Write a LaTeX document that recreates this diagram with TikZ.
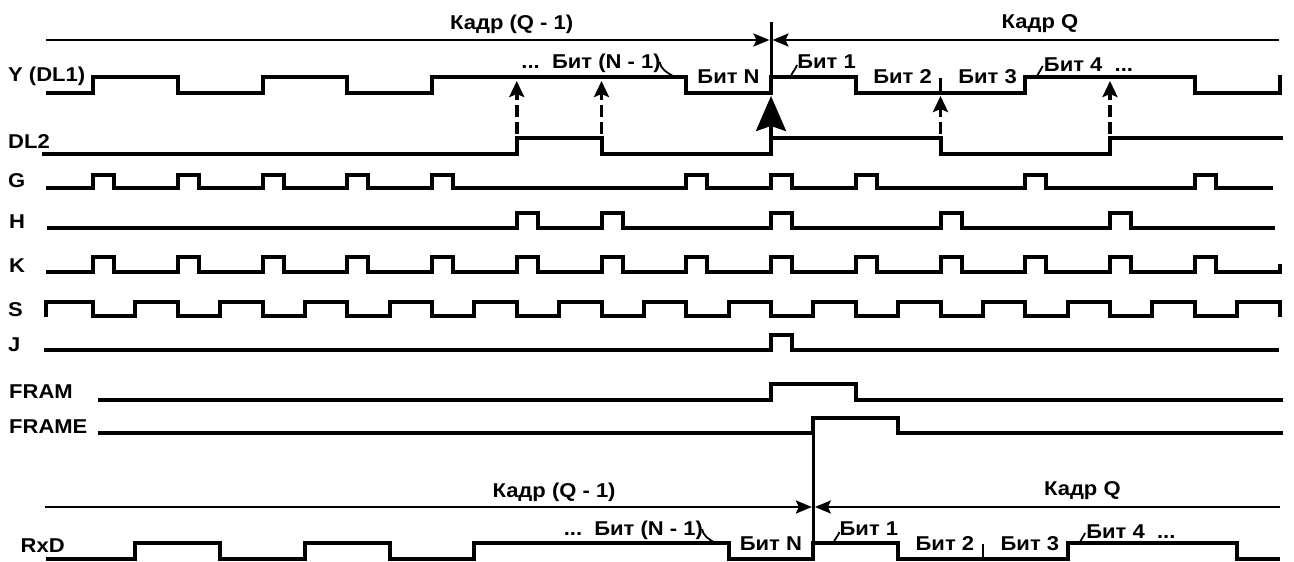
\documentclass[tikz,border=0pt]{standalone}
\usepackage{fontspec}
\setmainfont{Liberation Sans}[FakeStretch=1.1]
\usetikzlibrary{arrows.meta,calc}
\tikzset{
  sig/.style={line width=4pt},
  thintick/.style={line width=2.5pt},
  lbl/.style={font=\fontsize{20}{23}\selectfont\bfseries, inner sep=0pt, anchor=base},
  siglbl/.style={font=\fontsize{20}{23}\selectfont\bfseries, inner sep=0pt, anchor=base west},
  frameline/.style={line width=2.6pt, -{Stealth[length=16pt,width=13pt,inset=3pt]}},
  markline/.style={line width=3pt},
  leader/.style={line width=1.8pt},
  darrow/.style={line width=3.5pt, dash pattern=on 12pt off 5pt, -{Stealth[length=16pt,width=15pt,inset=3pt]}},
  bigarrow/.style={line width=3.5pt, dash pattern=on 12pt off 5pt, -{Stealth[length=35pt,width=30pt,inset=5pt]}}
}
\newcommand\bitannot[1]{%
  \node[lbl] (#1kq1) at (511.7,30) {Кадр (Q - 1)};
  \node[lbl] (#1kq) at (1040,28.5) {Кадр Q};
  \node[lbl] (#1bn1) at (591,68) {...\ \ Бит (N - 1)};
  \node[lbl] (#1bn) at (728.5,83) {Бит N};
  \node[lbl] (#1b1) at (826.5,68) {Бит 1};
  \node[lbl] (#1b2) at (902.5,83) {Бит 2};
  \node[lbl] (#1b3) at (987.5,83) {Бит 3};
  \node[lbl] (#1b4) at (1088.5,71) {Бит 4\ \ ...};
  \coordinate (#1l1) at (673,76);
  \coordinate (#1l2) at (791,76);
  \coordinate (#1l3) at (1037,76);
  \draw[leader] ($(#1bn1.base east)+(-1,-6)$) to[out=-80,in=150] (#1l1);
  \draw[leader] (#1l2) to[out=70,in=-110] ($(#1b1.base west)+(0,-3)$);
  \draw[leader] (#1l3) to[out=60,in=-120] ($(#1b4.base west)+(-1,-5)$);
}
\begin{document}
\begin{tikzpicture}[x=1pt,y=-1pt]
\useasboundingbox (0,0) rectangle (1294,562);
% signal names
\node[siglbl] (nY) at (8,81.7) {Y (DL1)};
\node[siglbl] (nDL2) at (8,148) {DL2};
\node[siglbl] (nG) at (8,187) {G};
\node[siglbl] (nH) at (9,228) {H};
\node[siglbl] (nK) at (9,272) {K};
\node[siglbl] (nS) at (8,316) {S};
\node[siglbl] (nJ) at (8,351) {J};
\node[siglbl] (nFRAM) at (9,398) {FRAM};
\node[siglbl] (nFRAME) at (9,433) {FRAME};
\node[siglbl] (nRxD) at (20.5,552) {RxD};
% top frame annotation
\draw[markline] (771,22) -- (771,77);
\draw[frameline] (46,40) -- (769.5,40);
\draw[frameline] (1279,40) -- (772.5,40);
\bitannot{t}
% Y (DL1)
\draw[sig] (46,93) -- (93,93) -- (93,77) -- (177.75,77) -- (177.75,93) -- (262.5,93) -- (262.5,77)
  -- (347.25,77) -- (347.25,93) -- (432,93) -- (432,77) -- (686.25,77) -- (686.25,93) -- (771,93)
  -- (771,77) -- (855.75,77) -- (855.75,93) -- (1025.25,93) -- (1025.25,77) -- (1194.75,77)
  -- (1194.75,93) -- (1279.5,93) -- (1279.5,75);
\draw[thintick] (940.5,93) -- (940.5,78);
% DL2
\draw[sig] (42,154) -- (516.75,154) -- (516.75,138) -- (601.5,138) -- (601.5,154) -- (771,154)
  -- (771,138) -- (940.5,138) -- (940.5,154) -- (1110,154) -- (1110,138) -- (1283,138);
% arrows DL2 -> Y
\draw[darrow] (516.75,134) -- (516.75,81);
\draw[darrow] (601.5,134) -- (601.5,81);
\draw[darrow] (940.5,134) -- (940.5,96);
\draw[darrow] (1110,134) -- (1110,81);
\draw[bigarrow] (771,136) -- (771,96);
% G
\draw[sig] (46,188) \foreach \k in {0,1,2,3,4,7,8,9,11,13}{ -- ({93+84.75*\k},188) -- ++(0,-13) -- ++(21,0) -- ++(0,13)} -- (1273,188);
% H
\draw[sig] (47,228) \foreach \k in {5,6,8,10,12}{ -- ({93+84.75*\k},228) -- ++(0,-15) -- ++(21,0) -- ++(0,15)} -- (1275,228);
% K
\draw[sig] (46,272) \foreach \k in {0,...,13}{ -- ({93+84.75*\k},272) -- ++(0,-15) -- ++(21,0) -- ++(0,15)} -- (1280,272) -- (1280,264);
% S
\draw[sig] (46,317) -- (46,302) \foreach \k in {0,...,13}{ -- ({93+84.75*\k},302) -- ({93+84.75*\k},316) -- ({135.375+84.75*\k},316) -- ({135.375+84.75*\k},302)} -- (1279.5,302) -- (1279.5,317);
% J
\draw[sig] (44,350) -- (771,350) -- (771,335) -- (792,335) -- (792,350) -- (1279,350);
% FRAM
\draw[sig] (98,400) -- (771,400) -- (771,384) -- (855.75,384) -- (855.75,400) -- (1283,400);
% FRAME
\draw[sig] (98,433) -- (813.375,433) -- (813.375,418) -- (898.125,418) -- (898.125,433) -- (1283,433);
% bottom frame annotation
\draw[markline] (813.375,433) -- (813.375,543);
\draw[frameline] (45,507) -- (811.9,507);
\draw[frameline] (1280,507) -- (814.9,507);
\begin{scope}[shift={(42.375,467)}]
\bitannot{b}
\end{scope}
% RxD
\draw[sig] (46,559) -- (135.375,559) -- (135.375,543) -- (220.125,543) -- (220.125,559) -- (304.875,559)
  -- (304.875,543) -- (389.625,543) -- (389.625,559) -- (474.375,559) -- (474.375,543) -- (728.625,543)
  -- (728.625,559) -- (813.375,559) -- (813.375,543) -- (898.125,543) -- (898.125,559) -- (1067.625,559)
  -- (1067.625,543) -- (1237.125,543) -- (1237.125,559) -- (1280,559);
\draw[thintick] (982.875,559) -- (982.875,544);
\end{tikzpicture}
\end{document}
